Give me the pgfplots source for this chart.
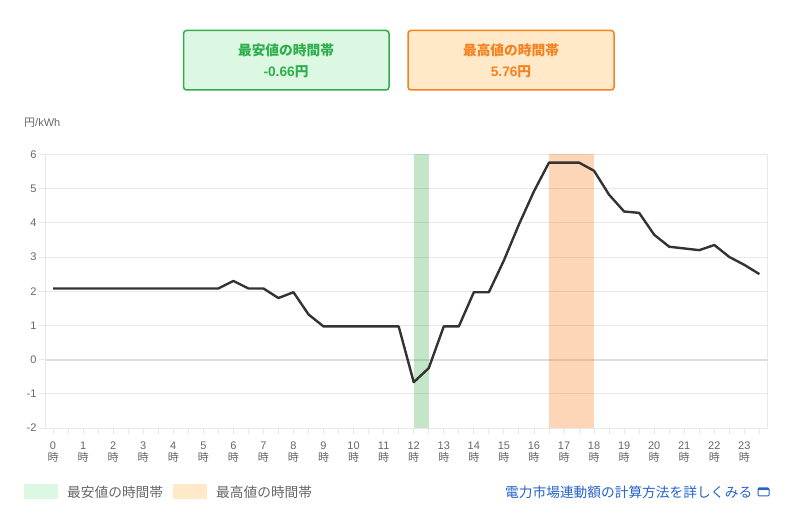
\documentclass[border=0pt]{standalone}
\usepackage{fontspec}
\usepackage{pgfplots}
\usepackage{pgfplotstable}
\pgfplotsset{compat=1.18}
\setmainfont{Liberation Sans}
\newfontfamily\cjk{Noto Sans CJK JP}
\definecolor{axisgrey}{HTML}{666666}
\definecolor{gridgrey}{HTML}{E8E8E8}
\definecolor{zerogrey}{HTML}{DEDEDE}
\definecolor{linedark}{HTML}{333333}
\definecolor{bandgreen}{HTML}{37AC48}
\definecolor{bandorange}{HTML}{F87312}
\definecolor{boxgreen}{HTML}{DCF8E2}
\definecolor{boxorange}{HTML}{FFE9C9}
\definecolor{edgegreen}{HTML}{2FAE4E}
\definecolor{edgeorange}{HTML}{F5811F}
\definecolor{linkblue}{HTML}{2563C9}

\pgfplotstableread{
h y
0 2.08
0.5 2.08
1 2.08
1.5 2.08
2 2.08
2.5 2.08
3 2.08
3.5 2.08
4 2.08
4.5 2.08
5 2.08
5.5 2.08
6 2.30
6.5 2.08
7 2.08
7.5 1.80
8 1.97
8.5 1.32
9 0.97
9.5 0.97
10 0.97
10.5 0.97
11 0.97
11.5 0.97
12 -0.66
12.5 -0.25
13 0.97
13.5 0.97
14 1.97
14.5 1.97
15 2.90
15.5 3.95
16 4.92
16.5 5.76
17 5.76
17.5 5.76
18 5.52
18.5 4.82
19 4.33
19.5 4.29
20 3.65
20.5 3.30
21 3.25
21.5 3.20
22 3.35
22.5 3.00
23 2.77
23.5 2.50
}\pricetable

\begin{document}
\begin{tikzpicture}
\path[use as bounding box] (0pt,0pt) rectangle (800pt,513pt);

\begin{axis}[
    at={(45.5pt,85pt)}, anchor=south west,
    scale only axis, width=721.4pt, height=273.6pt,
    xmin=-0.25, xmax=23.75, ymin=-2, ymax=6,
    /pgf/number format/assume math mode=true,
    xtick={0,...,23},
    minor xtick={0.5,1.5,...,23.5},
    ytick={-2,...,6},
    xtick pos=lower, ytick pos=left,
    xticklabel={\pgfmathprintnumber[int detect]{\tick}\\{\cjk 時}},
    xticklabel style={align=center, font=\fontsize{11}{12}\selectfont, text=axisgrey, yshift=-3.5pt},
    yticklabel style={font=\fontsize{11}{12}\selectfont, text=axisgrey, xshift=1pt},
    tick align=outside, major tick length=6.5pt, minor tick length=6.5pt,
    every tick/.style={color=gridgrey, line width=0.9pt},
    ymajorgrids, grid style={color=gridgrey, line width=0.9pt},
    axis line style={color=gridgrey, line width=0.8pt},
]
\addplot[color=zerogrey, line width=2pt, no marks] coordinates {(-0.25,0) (23.75,0)};
\addplot[draw=none, fill=bandgreen, fill opacity=0.3] coordinates {(12,-2) (12.5,-2) (12.5,6) (12,6)} --cycle;
\addplot[draw=none, fill=bandorange, fill opacity=0.3] coordinates {(16.5,-2) (18,-2) (18,6) (16.5,6)} --cycle;
\addplot[color=linedark, line width=2.4pt, line join=round, no marks] table[x=h,y=y] {\pricetable};
\end{axis}

% summary boxes
\draw[edgegreen, fill=boxgreen, line width=1.5pt, rounded corners=3pt] (183.5pt,423pt) rectangle (389pt,482.5pt);
\draw[edgeorange, fill=boxorange, line width=1.5pt, rounded corners=3pt] (408pt,423pt) rectangle (614pt,482.5pt);
\node[text=edgegreen, font=\fontsize{13.7}{15}\selectfont\cjk\bfseries] at (286pt,462.5pt) {最安値の時間帯};
\node[text=edgegreen, font=\fontsize{13.7}{15}\selectfont\bfseries] at (286pt,441pt) {-0.66{\cjk 円}};
\node[text=edgeorange, font=\fontsize{13.7}{15}\selectfont\cjk\bfseries] at (511pt,462.5pt) {最高値の時間帯};
\node[text=edgeorange, font=\fontsize{13.7}{15}\selectfont\bfseries] at (511pt,441pt) {5.76{\cjk 円}};

% unit
\node[anchor=west, inner sep=0, text=axisgrey, font=\fontsize{11}{12}\selectfont] at (24pt,390.2pt) {{\cjk 円}/kWh};

% legend
\fill[boxgreen] (23.5pt,13.5pt) rectangle (58pt,29pt);
\node[anchor=west, inner sep=0, text=axisgrey, font=\fontsize{13.7}{15}\selectfont\cjk] at (67pt,20.3pt) {最安値の時間帯};
\fill[boxorange] (172.5pt,13.5pt) rectangle (207pt,29pt);
\node[anchor=west, inner sep=0, text=axisgrey, font=\fontsize{13.7}{15}\selectfont\cjk] at (216pt,20.3pt) {最高値の時間帯};

% link
\node[anchor=west, inner sep=0, text=linkblue, font=\fontsize{13.7}{15}\selectfont\cjk] at (505pt,20.3pt) {電力市場連動額の計算方法を詳しくみる};
\draw[linkblue, line width=1pt, rounded corners=1pt] (758pt,17pt) rectangle (769pt,25pt);
\fill[linkblue] (758pt,23pt) rectangle (769pt,25.3pt);
\end{tikzpicture}
\end{document}
